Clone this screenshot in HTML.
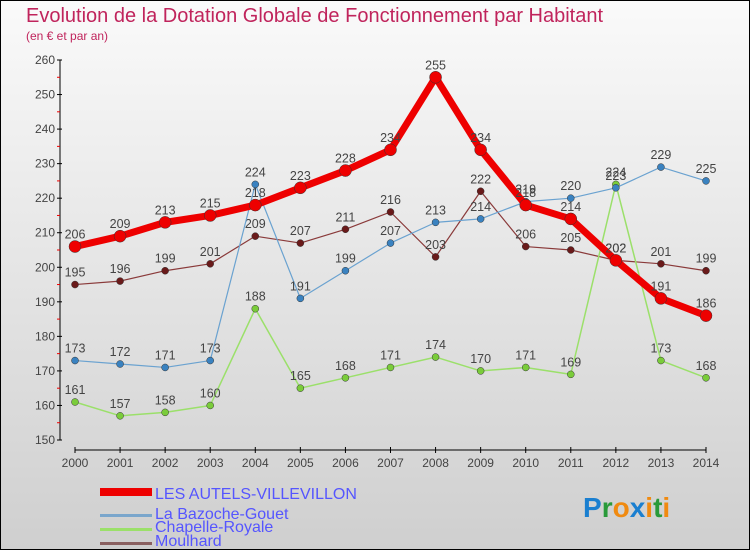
<!DOCTYPE html>
<html><head><meta charset="utf-8"><style>
body{margin:0}
#wrap{width:750px;height:550px;position:relative;box-sizing:border-box;border:1px solid #000;background:linear-gradient(#fafafa,#cfcfcf);font-family:"Liberation Sans",sans-serif;overflow:hidden}
svg text{font-family:"Liberation Sans",sans-serif}
</style></head><body>
<div id="wrap">
<svg id="svg" width="750" height="550" style="position:absolute;left:-1px;top:-1px">
<text x="26" y="22" font-size="20" fill="#c0245c">Evolution de la Dotation Globale de Fonctionnement par Habitant</text>
<text x="26" y="40" font-size="12" fill="#c0245c">(en € et par an)</text>
<g id="axes"></g><g id="series"></g>
<g font-size="16" fill="#5555ff">
<rect x="100" y="488" width="52" height="8" fill="#e00"/>
<text x="155" y="499">LES AUTELS-VILLEVILLON</text>
<rect x="100" y="514" width="52" height="3" fill="#7aa6cc"/>
<text x="155" y="519">La Bazoche-Gouet</text>
<rect x="100" y="528" width="52" height="3" fill="#9be06a"/>
<text x="155" y="532">Chapelle-Royale</text>
<rect x="100" y="542" width="52" height="3" fill="#8a6060"/>
<text x="155" y="546">Moulhard</text>
</g>
<text x="583" y="517" font-size="28" font-weight="bold"><tspan fill="#1a7fd0">P</tspan><tspan fill="#2a9a3a">r</tspan><tspan fill="#f08a10">o</tspan><tspan fill="#1a7fd0">x</tspan><tspan fill="#f08a10">i</tspan><tspan fill="#2a9a3a">t</tspan><tspan fill="#f08a10">i</tspan></text>
</svg></div>
<script>
const years=[2000,2001,2002,2003,2004,2005,2006,2007,2008,2009,2010,2011,2012,2013,2014];
const yTicks=[150,160,170,180,190,200,210,220,230,240,250,260];
const autels=[206,209,213,215,218,223,228,234,255,234,218,214,202,191,186];
const bazoche=[173,172,171,173,224,191,199,207,213,214,219,220,223,229,225];
const chapelle=[161,157,158,160,188,165,168,171,174,170,171,169,224,173,168];
const moulhard=[195,196,199,201,209,207,211,216,203,222,206,205,202,201,199];
const NS='http://www.w3.org/2000/svg';
const X=i=>75+i*(706-75)/(years.length-1);
const Y=v=>440-(v-150)*(380/110);
function mk(t,a,p){const e=document.createElementNS(NS,t);for(const k in a)e.setAttribute(k,a[k]);p.appendChild(e);return e;}
const ax=document.getElementById('axes');
const yl=mk('line',{x1:60,y1:Y(260),x2:60,y2:Y(150),stroke:'#000','stroke-width':1},ax);


yTicks.forEach((v,i)=>{
 mk('line',{x1:57,x2:62,y1:Y(v),y2:Y(v),stroke:'#000'},ax);
 if(i<yTicks.length-1)mk('line',{x1:57,x2:60,y1:Y(v+5),y2:Y(v+5),stroke:'#e00'},ax);
 const t=mk('text',{x:55,y:Y(v)+4,'text-anchor':'end','font-size':12,fill:'#444'},ax);t.textContent=v;
 
 
});
const xl=mk('line',{x1:75,x2:706,y1:450,y2:450,stroke:'#000'},ax);


years.forEach((y,i)=>{
 mk('line',{x1:X(i),x2:X(i),y1:447,y2:453,stroke:'#000'},ax);
 const t=mk('text',{x:X(i),y:467,'text-anchor':'middle','font-size':12,fill:'#444'},ax);t.textContent=y;
 
 
});
const sg=document.getElementById('series');
function series(name,data,color,w,r,dot){
 const g=mk('g',{},sg);
 
 
 mk('polyline',{points:data.map((v,i)=>X(i)+','+Y(v)).join(' '),fill:'none',stroke:color,'stroke-width':w,'stroke-linejoin':'round'},g);
 data.forEach((v,i)=>{
  const c=mk('circle',{cx:X(i),cy:Y(v),r:r,fill:dot,stroke:'#333','stroke-width':0.5},g);
  
  
  const t=mk('text',{x:X(i),y:Y(v)-8,'text-anchor':'middle','font-size':12.5,fill:'#444'},g);t.textContent=v;
  
  
 });
}
series('series-moulhard',moulhard,'#8a3a3a',1.2,3.5,'#6a1a1a');
series('series-chapelle',chapelle,'#9be06a',1.5,3.5,'#7acc3a');
series('series-bazoche',bazoche,'#6aa2d0',1.2,3.5,'#3a82c0');
series('series-autels',autels,'#e00',7,6,'#e00');
</script>
</body></html>
